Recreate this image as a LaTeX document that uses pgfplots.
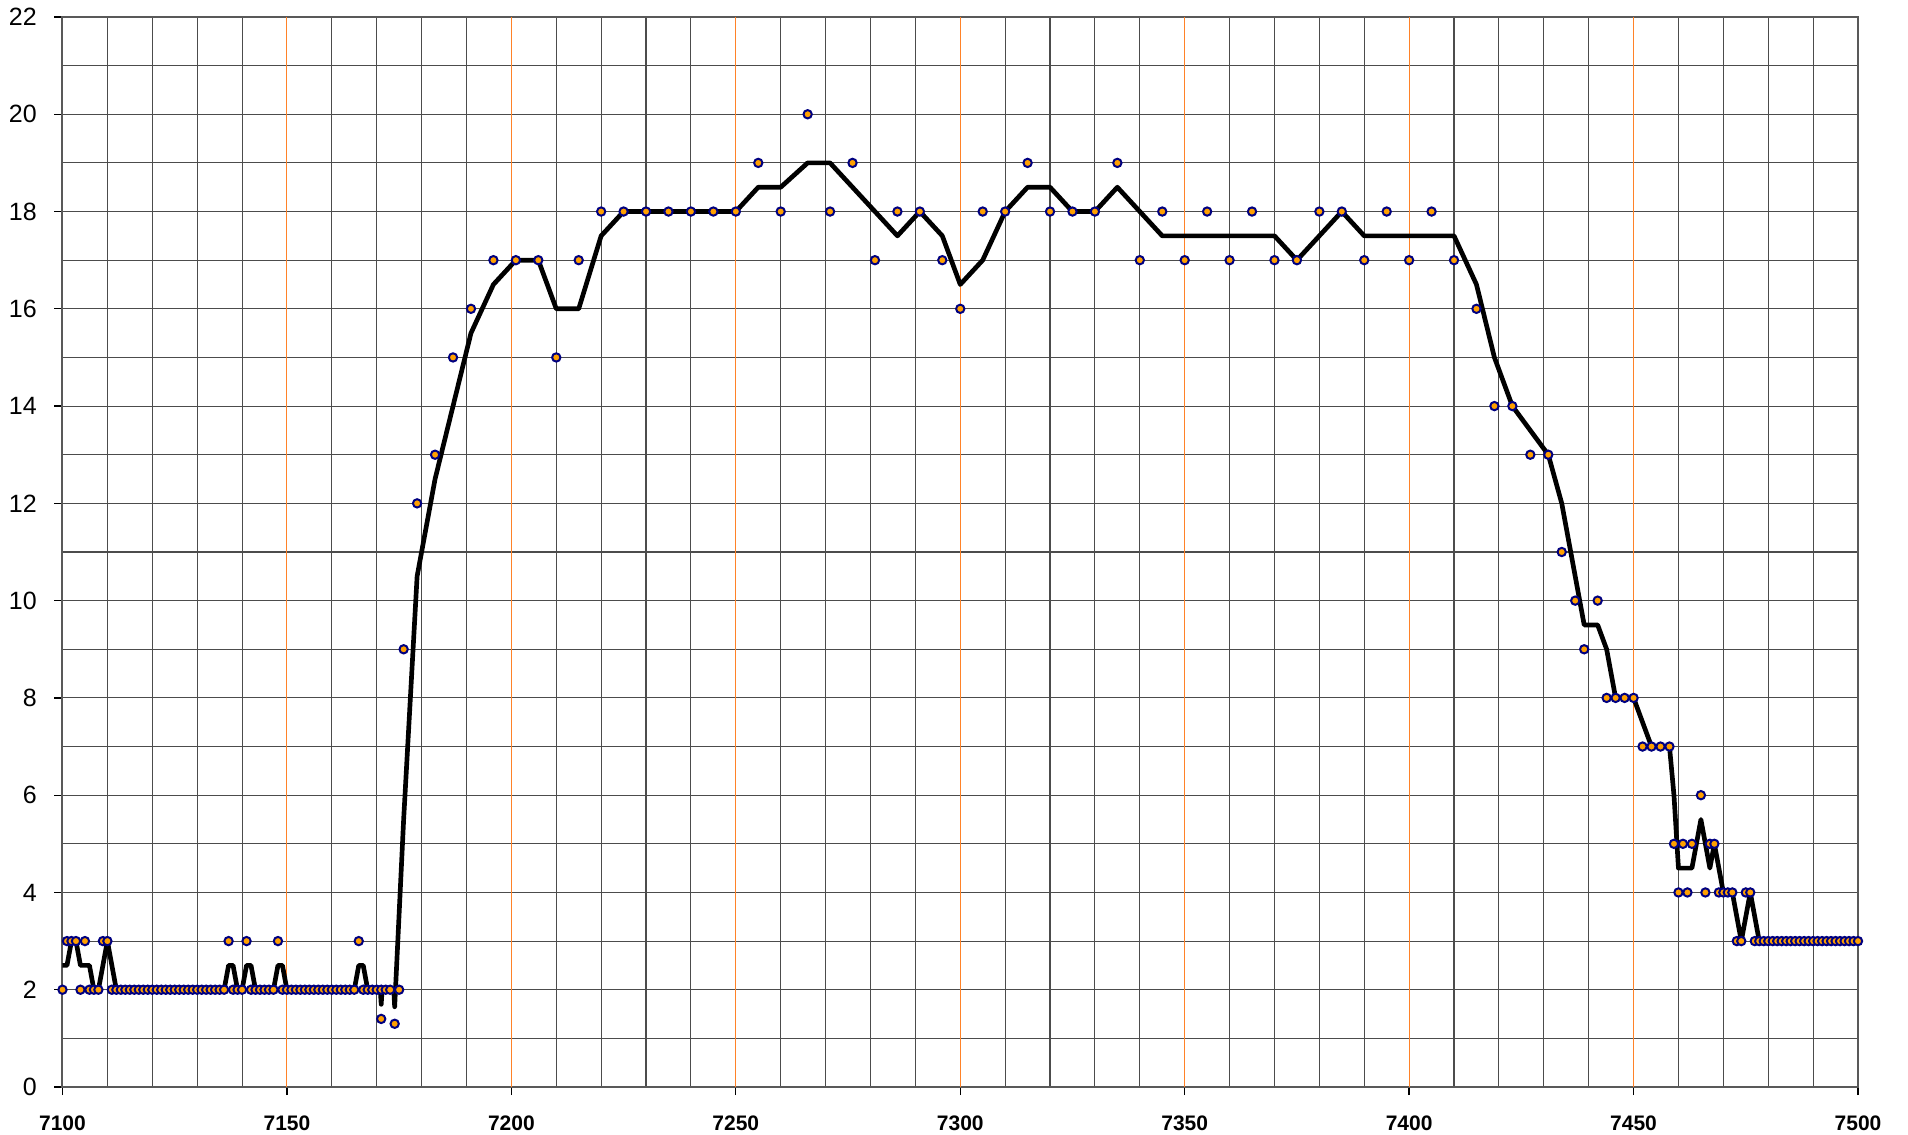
\documentclass[border=0pt]{standalone}
\usepackage{pgfplots}
\pgfplotsset{compat=1.18}
\usepackage{fontspec}
\setmainfont{Liberation Sans}
\definecolor{ptfill}{RGB}{255,160,0}
\definecolor{ptedge}{RGB}{0,0,128}
\definecolor{orgrid}{RGB}{255,130,40}
\begin{document}
\begin{tikzpicture}
\begin{axis}[
  scale only axis,
  width=538.65bp, height=321bp,
  xmin=7100, xmax=7500, ymin=0, ymax=22,
  xtick={7100,7150,...,7500},
  ytick={0,2,...,22},
  minor x tick num=4,
  minor y tick num=1,
  xminorgrids=true, xmajorgrids=false,
  ymajorgrids=true, yminorgrids=true,
  major grid style={black!70, line width=0.33bp},
  minor grid style={black!70, line width=0.33bp},
  extra x ticks={7150,7200,...,7450},
  extra x tick labels={,,,,,,},
  extra x tick style={grid=major, major grid style={orgrid, line width=0.33bp}, major tick length=0pt},
  tick pos=left,
  tick align=outside,
  major tick length=2.4bp,
  minor tick length=0pt,
  tick style={black, line width=0.4bp},
  axis line style={black!65, line width=0.6bp},
  /pgf/number format/.cd, 1000 sep={}, assume math mode=true,
  /pgfplots/.cd,
  yticklabel style={font=\fontsize{7.5bp}{9bp}\selectfont, xshift=-1.8bp},
  xticklabel style={font=\fontsize{6.3bp}{7.5bp}\selectfont\bfseries, yshift=-2.6bp},
  clip=false,
]
\addplot[only marks, mark=*, mark size=1.25bp, mark options={fill=ptfill, draw=ptedge, line width=0.6bp}] coordinates {
(7100,2)(7101,3)(7102,3)(7103,3)(7104,2)(7105,3)(7106,2)(7107,2)(7108,2)(7109,3)(7110,3)
(7111,2)(7112,2)(7113,2)(7114,2)(7115,2)(7116,2)(7117,2)(7118,2)(7119,2)(7120,2)
(7121,2)(7122,2)(7123,2)(7124,2)(7125,2)(7126,2)(7127,2)(7128,2)(7129,2)(7130,2)
(7131,2)(7132,2)(7133,2)(7134,2)(7135,2)(7136,2)(7137,3)(7138,2)(7139,2)(7140,2)
(7141,3)(7142,2)(7143,2)(7144,2)(7145,2)(7146,2)(7147,2)(7148,3)(7149,2)(7150,2)
(7151,2)(7152,2)(7153,2)(7154,2)(7155,2)(7156,2)(7157,2)(7158,2)(7159,2)(7160,2)
(7161,2)(7162,2)(7163,2)(7164,2)(7165,2)(7166,3)(7167,2)(7168,2)(7169,2)(7170,2)
(7171,2)(7171,1.4)(7172,2)(7173,2)(7174,1.3)(7175,2)
(7176,9)(7179,12)(7183,13)(7187,15)(7191,16)(7196,17)(7201,17)(7206,17)(7210,15)(7215,17)
(7220,18)(7225,18)(7230,18)(7235,18)(7240,18)(7245,18)(7250,18)(7255,19)(7260,18)(7266,20)
(7271,18)(7276,19)(7281,17)(7286,18)(7291,18)(7296,17)(7300,16)(7305,18)(7310,18)(7315,19)
(7320,18)(7325,18)(7330,18)(7335,19)(7340,17)(7345,18)(7350,17)(7355,18)(7360,17)(7365,18)
(7370,17)(7375,17)(7380,18)(7385,18)(7390,17)(7395,18)(7400,17)(7405,18)(7410,17)(7415,16)
(7419,14)(7423,14)(7427,13)(7431,13)(7434,11)(7437,10)(7439,9)(7442,10)(7444,8)(7446,8)
(7448,8)(7450,8)(7452,7)(7454,7)(7456,7)(7458,7)(7459,5)(7460,4)(7461,5)(7462,4)
(7463,5)(7465,6)(7466,4)(7467,5)(7468,5)(7469,4)(7470,4)(7471,4)(7472,4)(7473,3)
(7474,3)(7475,4)(7476,4)(7477,3)(7478,3)(7479,3)(7480,3)(7481,3)(7482,3)(7483,3)
(7484,3)(7485,3)(7486,3)(7487,3)(7488,3)(7489,3)(7490,3)(7491,3)(7492,3)(7493,3)
(7494,3)(7495,3)(7496,3)(7497,3)(7498,3)(7499,3)(7500,3)
};
\addplot[black, line width=1.4bp, line join=round, no marks] coordinates {
(7100,2.5)(7101,2.5)(7102,3)(7103,3)(7104,2.5)(7105,2.5)(7106,2.5)(7107,2)(7108,2)(7109,2.5)(7110,3)(7111,2.5)(7112,2)
(7136,2)(7137,2.5)(7138,2.5)(7139,2)(7140,2)(7141,2.5)(7142,2.5)(7143,2)(7147,2)(7148,2.5)(7149,2.5)(7150,2)
(7165,2)(7166,2.5)(7167,2.5)(7168,2)(7170.8,2)(7171,1.7)(7171.2,2)(7173.8,2)(7174,1.65)(7176,5.5)
(7179,10.5)(7183,12.5)(7187,14)(7191,15.5)(7196,16.5)(7201,17)(7206,17)(7210,16)(7215,16)(7220,17.5)
(7225,18)(7250,18)(7255,18.5)(7260,18.5)(7266,19)(7271,19)(7276,18.5)(7281,18)(7286,17.5)(7291,18)
(7296,17.5)(7300,16.5)(7305,17)(7310,18)(7315,18.5)(7320,18.5)(7325,18)(7330,18)(7335,18.5)(7340,18)
(7345,17.5)(7350,17.5)(7370,17.5)(7375,17)(7380,17.5)(7385,18)(7390,17.5)(7410,17.5)(7415,16.5)(7419,15)
(7423,14)(7427,13.5)(7431,13)(7434,12)(7437,10.5)(7439,9.5)(7442,9.5)(7444,9)(7446,8)(7450,8)
(7452,7.5)(7454,7)(7458,7)(7459,6)(7460,4.5)(7463,4.5)(7465,5.5)(7466,5)(7467,4.5)(7468,5)
(7469,4.5)(7470,4)(7472,4)(7473,3.5)(7474,3)(7475,3.5)(7476,4)(7477,3.5)(7478,3)(7500,3)
};
\end{axis}
\pgfresetboundingbox
\path ([shift={(-18.75bp,-14.4bp)}]current axis.south west) rectangle ([shift={(15bp,5.1bp)}]current axis.north east);
\end{tikzpicture}
\end{document}
